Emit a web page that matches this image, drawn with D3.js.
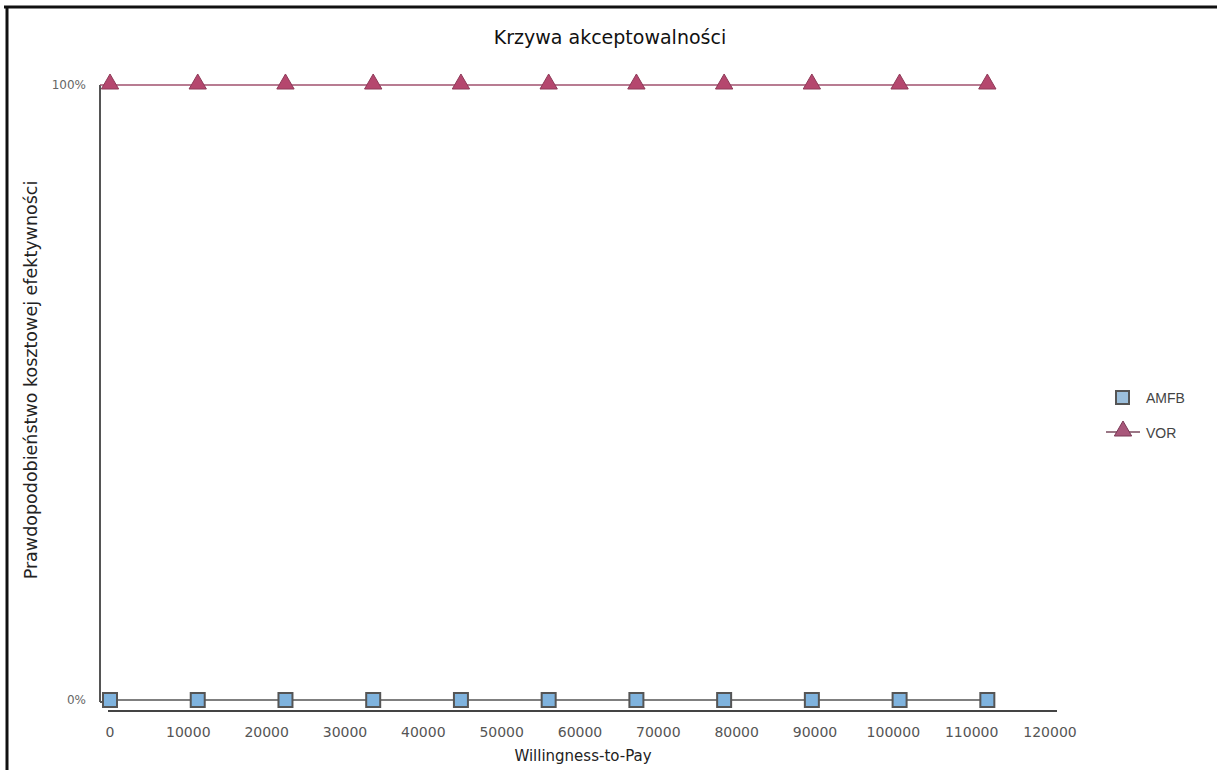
<!DOCTYPE html>
<html lang="pl">
<head>
<meta charset="utf-8">
<script src="https://d3js.org/d3.v7.min.js"></script>
<style>
  body { margin: 0; background: #fff; }
  svg { display: block; font-family: "DejaVu Sans", "Liberation Sans", sans-serif; }
</style>
</head>
<body>
<svg id="chart" width="1217" height="773"></svg>
<script>
// data
const wtp = [0, 11200, 22400, 33600, 44800, 56000, 67200, 78400, 89600, 100800, 112000];
const amfb = [0, 0, 0, 0, 0, 0, 0, 0, 0, 0, 0];
const vor = [1, 1, 1, 1, 1, 1, 1, 1, 1, 1, 1];
const xTicks = [0, 10000, 20000, 30000, 40000, 50000, 60000, 70000, 80000, 90000, 100000, 110000, 120000];
const yTicks = [0, 1];

const svg = d3.select("#chart");

// frame lines (top and left)
svg.append("line").attr("x1", 4).attr("x2", 1217).attr("y1", 7).attr("y2", 7)
  .attr("stroke", "#111").attr("stroke-width", 3);
svg.append("line").attr("x1", 7).attr("x2", 7).attr("y1", 7).attr("y2", 770)
  .attr("stroke", "#111").attr("stroke-width", 3);

const x = d3.scaleLinear().domain([0, 120000]).range([110, 1050]);
const y = d3.scaleLinear().domain([0, 1]).range([700, 85]);

// y axis line
svg.append("line").attr("x1", 100).attr("x2", 100).attr("y1", y(1)).attr("y2", y(0) + 2)
  .attr("stroke", "#555").attr("stroke-width", 2);
svg.append("line").attr("x1", 100).attr("x2", 108).attr("y1", y(0) + 2).attr("y2", y(0) + 2)
  .attr("stroke", "#555").attr("stroke-width", 2);
// x axis line
svg.append("line").attr("x1", 108).attr("x2", 1057).attr("y1", 711).attr("y2", 711)
  .attr("stroke", "#444").attr("stroke-width", 2);

// tick labels
svg.append("g").selectAll("text").data(xTicks).join("text")
  .attr("x", d => x(d)).attr("y", 737)
  .attr("text-anchor", "middle")
  .attr("font-size", 14).attr("fill", "#555")
  .text(d => d);

svg.append("g").selectAll("text").data(yTicks).join("text")
  .attr("x", 86).attr("y", d => y(d) + 4)
  .attr("text-anchor", "end")
  .attr("font-size", 12).attr("fill", "#666")
  .text(d => d3.format(".0%")(d));

// titles
svg.append("text").attr("x", 610).attr("y", 44).attr("text-anchor", "middle")
  .attr("font-size", 19).attr("fill", "#111").text("Krzywa akceptowalności");
svg.append("text").attr("x", 583).attr("y", 761).attr("text-anchor", "middle")
  .attr("font-size", 15).attr("fill", "#222").text("Willingness-to-Pay");
svg.append("text").attr("transform", "translate(37,380) rotate(-90)")
  .attr("text-anchor", "middle").attr("font-size", 17.5).attr("fill", "#222")
  .text("Prawdopodobieństwo kosztowej efektywności");

const line = d3.line().x(d => x(d[0])).y(d => y(d[1]));

// AMFB series
svg.append("path").datum(wtp.map((w, i) => [w, amfb[i]]))
  .attr("d", line).attr("fill", "none").attr("stroke", "#555").attr("stroke-width", 1.5);
svg.append("g").selectAll("rect").data(wtp.map((w, i) => [w, amfb[i]])).join("rect")
  .attr("x", d => x(d[0]) - 7).attr("y", d => y(d[1]) - 7)
  .attr("width", 14).attr("height", 14)
  .attr("fill", "#7fb3de").attr("stroke", "#555").attr("stroke-width", 2);

// VOR series (line starts at the y axis)
const vorPts = wtp.map((w, i) => [w, vor[i]]);
svg.append("path")
  .attr("d", line(vorPts).replace(/^M[^L]+/, "M100," + y(1)))
  .attr("fill", "none").attr("stroke", "#a0506e").attr("stroke-width", 1.5);
const tri = d3.symbol().type(d3.symbolTriangle).size(130);
svg.append("g").selectAll("path").data(vorPts).join("path")
  .attr("transform", d => `translate(${x(d[0])},${y(d[1]) - 1})`)
  .attr("d", tri).attr("fill", "#b5476e").attr("stroke", "#8e3a58").attr("stroke-width", 1);

// legend
const lg = svg.append("g").attr("font-family", "Liberation Sans, Arial, sans-serif");
lg.append("rect").attr("x", 1116).attr("y", 391).attr("width", 13).attr("height", 13)
  .attr("fill", "#9cbfdc").attr("stroke", "#555").attr("stroke-width", 2);
lg.append("text").attr("x", 1146).attr("y", 403).attr("font-size", 14).attr("fill", "#444").text("AMFB");
lg.append("line").attr("x1", 1106).attr("x2", 1140).attr("y1", 432).attr("y2", 432)
  .attr("stroke", "#7a4a5e").attr("stroke-width", 1.5);
lg.append("path").attr("transform", "translate(1123,431)").attr("d", tri)
  .attr("fill", "#a8577a").attr("stroke", "#7a3a56");
lg.append("text").attr("x", 1146).attr("y", 438).attr("font-size", 14).attr("fill", "#444").text("VOR");
</script>
</body>
</html>
